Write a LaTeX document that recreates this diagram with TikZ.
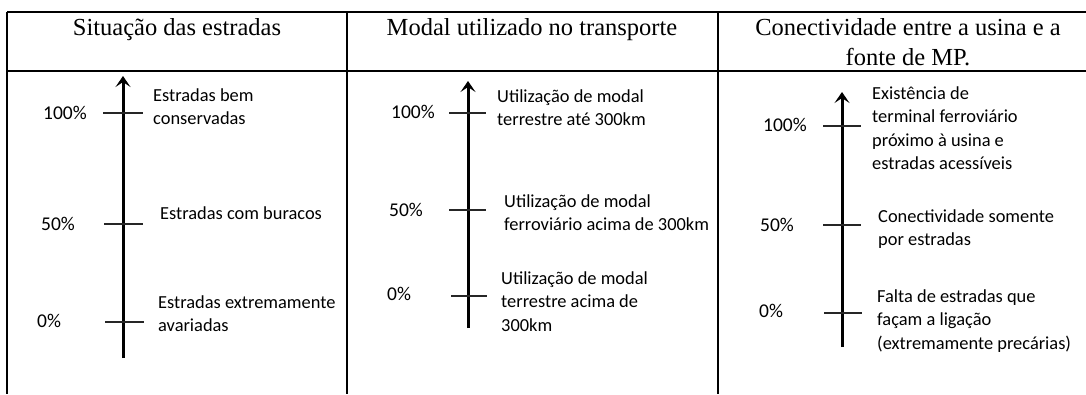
\documentclass[tikz,border=0pt]{standalone}
\usepackage{fontspec}
\setmainfont{Liberation Serif}
\newfontfamily\calib{Carlito}
\usetikzlibrary{arrows.meta}
\newcommand\mlines[1]{\begin{tabular}[t]{@{}l@{}}#1\end{tabular}}
\newcommand\clines[1]{\begin{tabular}[t]{@{}c@{}}#1\end{tabular}}
\tikzset{
  grid/.style={line width=1.9pt, black},
  headline/.style={line width=2.4pt, black},
  axis/.style={line width=3pt, black, -{Stealth[length=11pt,width=15pt,inset=5pt]}},
  tick/.style={line width=1.6pt, black!85},
  head/.style={anchor=base, inner sep=0pt, font=\fontsize{24.5}{30}\selectfont},
  lbl/.style={anchor=base west, inner sep=0pt, font=\calib\fontsize{18.4}{23.5}\selectfont},
  pct/.style={anchor=base west, inner sep=0pt, font=\calib\fontsize{19.5}{23.5}\selectfont},
}
\begin{document}
\begin{tikzpicture}[x=1pt, y=-1pt]
\useasboundingbox (0,0) rectangle (1086,394);
% table frame
\coordinate (tl) at (7,12);
\coordinate (tr) at (1086,12);
\coordinate (hl) at (7,71);
\coordinate (hr) at (1086,71);
\coordinate (bl) at (7,394);
\coordinate (d1t) at (347,12);
\coordinate (d1b) at (347,394);
\coordinate (d2t) at (718,12);
\coordinate (d2b) at (718,394);
\draw[grid] (tl) -- (tr);
\draw[headline] (hl) -- (hr);
\draw[grid] (tl) -- (bl);
\draw[grid] (d1t) -- (d1b);
\draw[grid] (d2t) -- (d2b);
% headers
\node[head] (h1) at (177,35) {Situação das estradas};
\node[head] (h2) at (532,35) {Modal utilizado no transporte};
\node[head] (h3) at (908,35) {\clines{Conectividade entre a usina e a\\ fonte de MP.}};
% ---- column 1
\coordinate (a1b) at (123,358);
\coordinate (a1t) at (123,76);
\draw[axis] (a1b) -- (a1t);
\coordinate (t1al) at (103,113); \coordinate (t1ar) at (143,113);
\coordinate (t1bl) at (104,224); \coordinate (t1br) at (143,224);
\coordinate (t1cl) at (105,322); \coordinate (t1cr) at (144,322);
\draw[tick] (t1al) -- (t1ar);
\draw[tick] (t1bl) -- (t1br);
\draw[tick] (t1cl) -- (t1cr);
\node[pct] (p1a) at (43,119) {100\%};
\node[pct] (p1b) at (41,230) {50\%};
\node[pct] (p1c) at (37,327) {0\%};
\node[lbl] (l1a) at (153,101) {\mlines{Estradas bem\\ conservadas}};
\node[lbl] (l1b) at (160,219) {Estradas com buracos};
\node[lbl] (l1c) at (158,308) {\mlines{Estradas extremamente\\ avariadas}};
% ---- column 2
\coordinate (a2b) at (468,328);
\coordinate (a2t) at (468,81);
\draw[axis] (a2b) -- (a2t);
\coordinate (t2al) at (449,113); \coordinate (t2ar) at (486,113);
\coordinate (t2bl) at (449,210); \coordinate (t2br) at (486,210);
\coordinate (t2cl) at (451,296); \coordinate (t2cr) at (487,296);
\draw[tick] (t2al) -- (t2ar);
\draw[tick] (t2bl) -- (t2br);
\draw[tick] (t2cl) -- (t2cr);
\node[pct] (p2a) at (391,118) {100\%};
\node[pct] (p2b) at (389,216) {50\%};
\node[pct] (p2c) at (387,300) {0\%};
\node[lbl] (l2a) at (497,102) {\mlines{Utilização de modal\\ terrestre até 300km}};
\node[lbl] (l2b) at (504,207) {\mlines{Utilização de modal\\ ferroviário acima de 300km}};
\node[lbl] (l2c) at (501,284) {\mlines{Utilização de modal\\ terrestre acima de\\ 300km}};
% ---- column 3
\coordinate (a3b) at (842,347);
\coordinate (a3t) at (842,92);
\draw[axis] (a3b) -- (a3t);
\coordinate (t3al) at (823,126); \coordinate (t3ar) at (861,126);
\coordinate (t3bl) at (823,225); \coordinate (t3br) at (861,225);
\coordinate (t3cl) at (824,313); \coordinate (t3cr) at (862,313);
\draw[tick] (t3al) -- (t3ar);
\draw[tick] (t3bl) -- (t3br);
\draw[tick] (t3cl) -- (t3cr);
\node[pct] (p3a) at (763,131) {100\%};
\node[pct] (p3b) at (760,231) {50\%};
\node[pct] (p3c) at (759,317) {0\%};
\node[lbl] (l3a) at (872,99) {\mlines{Existência de\\ terminal ferroviário\\ próximo à usina e\\ estradas acessíveis}};
\node[lbl] (l3b) at (878,222) {\mlines{Conectividade somente\\ por estradas}};
\node[lbl] (l3c) at (877,302) {\mlines{Falta de estradas que\\ façam a ligação\\ (extremamente precárias)}};
\end{tikzpicture}
\end{document}
